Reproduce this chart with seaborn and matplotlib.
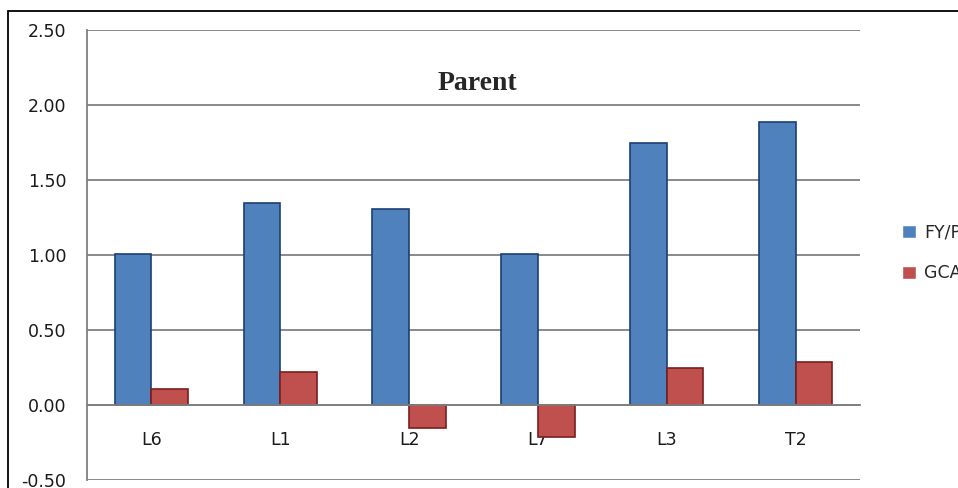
import numpy as np
import pandas as pd
import matplotlib
matplotlib.use('Agg')
import matplotlib.pyplot as plt
import seaborn as sns
from matplotlib.patches import Rectangle

# values
lines = ['L6', 'L1', 'L2', 'L7', 'L3', 'T2']
fy_p = [1.01, 1.35, 1.31, 1.01, 1.75, 1.89]
gca = [0.11, 0.22, -0.15, -0.21, 0.25, 0.29]
series = ['FY/P', 'GCA']
yticks = [-0.5, 0.0, 0.5, 1.0, 1.5, 2.0, 2.5]

df = pd.DataFrame({
    'line': lines * 2,
    'value': fy_p + gca,
    'trait': [series[0]] * len(lines) + [series[1]] * len(lines),
})

sns.set_style('white')
plt.rcParams['font.family'] = ['DejaVu Sans']

fig = plt.figure(figsize=(9.58, 4.88), dpi=100)
ax = fig.add_axes([87 / 958, 1 - 480 / 488, (860 - 87) / 958, 450 / 488])

blue, red = '#4F81BD', '#C0504D'
sns.barplot(data=df, x='line', y='value', hue='trait', order=lines,
            palette=[blue, red], saturation=1, width=0.57, ax=ax, legend=True)

edges = ['#1B3F73', '#7A1E1C']
for cont, ec in zip(ax.containers, edges):
    for p in cont:
        p.set_edgecolor(ec)
        p.set_linewidth(1.2)

ax.set_ylim(-0.5, 2.5)
ax.set_xlim(-0.5, len(lines) - 0.5)
ax.set_yticks(yticks)
ax.set_yticklabels([f'{v:.2f}' for v in yticks], fontsize=12.5, color='#1a1a1a')
ax.yaxis.grid(True, color='#808080', linewidth=1.3)
ax.set_axisbelow(True)
ax.tick_params(axis='y', length=7, width=1.3, color='#808080', pad=8)

# category axis crosses at zero
ax.spines['bottom'].set_position(('data', 0))
ax.spines['bottom'].set_color('#808080')
ax.spines['bottom'].set_linewidth(1.3)
ax.spines['left'].set_color('#808080')
ax.spines['left'].set_linewidth(1.3)
ax.spines['top'].set_visible(False)
ax.spines['right'].set_visible(False)
ax.set_xticks(range(len(lines)))
ax.set_xticklabels(lines, fontsize=12.5, color='#1a1a1a')
ax.tick_params(axis='x', length=0, pad=19)
ax.set_xticks(np.arange(-0.5, len(lines), 1.0), minor=True)
ax.tick_params(axis='x', which='minor', length=5, color='#808080', direction='out')
ax.set_xlabel('')
ax.set_ylabel('')

ax.text(0.505, 0.88, 'Parent', transform=ax.transAxes, ha='center', va='center',
        fontsize=20, fontweight='bold', family='Liberation Serif')

handles, labels = ax.get_legend_handles_labels()
ax.legend(handles, labels, loc='center left', bbox_to_anchor=(886 / 958, 1 - 253 / 488),
          bbox_transform=fig.transFigure, frameon=False, fontsize=12.5,
          handlelength=0.8, handleheight=0.8, handletextpad=0.5, labelspacing=1.3)

# outer frame of the original figure (cut off at right and bottom)
fig.patches.append(Rectangle((8 / 958, -0.1), 1.2, 1 - 11 / 488 + 0.1,
                             transform=fig.transFigure, fill=False,
                             edgecolor='black', linewidth=1.3))

fig.savefig('out.png', dpi=100)
